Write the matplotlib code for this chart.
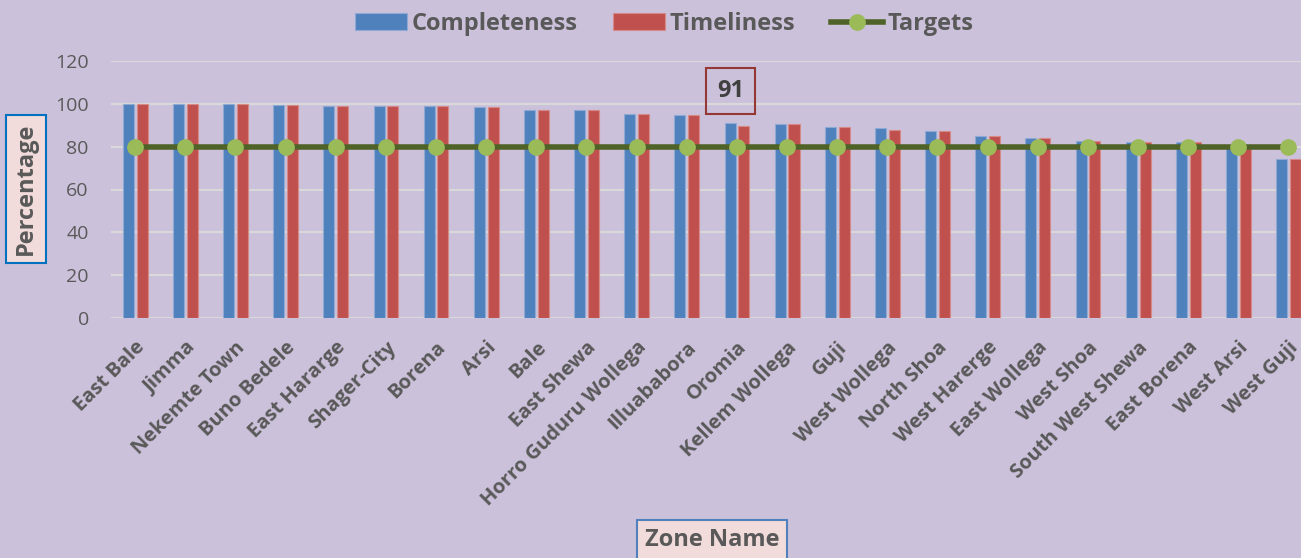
import matplotlib.pyplot as plt
import numpy as np

# zone names and reporting rates (%)
zones = ["East Bale", "Jimma", "Nekemte Town", "Buno Bedele", "East Hararge",
         "Shager-City", "Borena", "Arsi", "Bale", "East Shewa",
         "Horro Guduru Wollega", "Illuababora", "Oromia", "Kellem Wollega", "Guji",
         "West Wollega", "North Shoa", "West Harerge", "East Wollega", "West Shoa",
         "South West Shewa", "East Borena", "West Arsi", "West Guji"]
completeness = [100, 100, 100, 99.6, 99.2, 98.9, 98.9, 98.4, 97.3, 97.3,
                95.4, 95.0, 91.2, 90.7, 89.0, 88.8, 87.5, 85.2, 84.0, 82.8,
                82.4, 82.3, 80.5, 74.1]
timeliness = [100, 100, 100, 99.6, 99.2, 98.9, 98.9, 98.4, 97.3, 97.3,
              95.4, 95.0, 89.8, 90.7, 89.0, 87.9, 87.4, 85.2, 84.0, 82.8,
              82.4, 82.3, 80.0, 74.1]
targets = [80] * len(zones)
n = len(zones)

plt.rcParams['font.family'] = ['Open Sans', 'DejaVu Sans']

bg = '#CCC1DA'
fig = plt.figure(figsize=(13.01, 5.58), dpi=100, facecolor=bg)
ax = fig.add_axes([111 / 1301, 1 - 318 / 558, (1301 - 111) / 1301, (318 - 61) / 558])
ax.set_facecolor(bg)

x = np.arange(n)
w = 0.22
b1 = ax.bar(x - 0.135, completeness, w, color='#4F81BD', edgecolor='#8EA9D4', linewidth=0.8,
            label='Completeness', zorder=2)
b2 = ax.bar(x + 0.14, timeliness, w, color='#C0504D', edgecolor='#D68A88', linewidth=0.8,
            label='Timeliness', zorder=2)
l1, = ax.plot(x, targets, color='#4F6228', linewidth=4, marker='o', markersize=11,
              markerfacecolor='#9BBB59', markeredgecolor='#9BBB59', label='Targets', zorder=3)

ax.set_ylim(0, 120)
ax.set_yticks(range(0, 121, 20))
ax.set_xlim(-0.48, n - 1 + 0.25)
ax.grid(axis='y', color='#D9D9D9', linewidth=1.5, zorder=0)
for s in ax.spines.values():
    s.set_visible(False)
ax.tick_params(axis='both', length=0)
ax.tick_params(axis='y', labelsize=14, labelcolor='#595959', pad=16)
ax.set_xticks(x)
ax.set_xticklabels(zones, rotation=45, ha='right', rotation_mode='anchor',
                   fontsize=14.5, fontweight='bold', color='#595959')
ax.tick_params(axis='x', pad=14)

# highlight label for Oromia
ax.text(11.87, 106, '91', ha='center', va='center', fontsize=17, fontweight='bold',
        color='#404040',
        bbox=dict(boxstyle='square,pad=0.45', facecolor='none', edgecolor='#953735', linewidth=1.5))

fig.text(26 / 1301, 1 - 189 / 558, 'Percentage', rotation=90, ha='center', va='center',
         fontsize=17, fontweight='bold', color='#595959',
         bbox=dict(boxstyle='square,pad=0.32', facecolor='#F2DCDB', edgecolor='#0070C0', linewidth=1.5))
fig.text(712 / 1301, 1 - 540 / 558, 'Zone Name', ha='center', va='center',
         fontsize=17, fontweight='bold', color='#595959',
         bbox=dict(boxstyle='square,pad=0.32', facecolor='#F2DCDB', edgecolor='#4F81BD', linewidth=1.5))

leg = fig.legend([b1, b2, l1], ['Completeness', 'Timeliness', 'Targets'],
                 loc='center', bbox_to_anchor=(664 / 1301, 1 - 24 / 558), ncol=3, frameon=False,
                 prop={'weight': 'bold', 'size': 17}, handlelength=2.2, handleheight=0.7,
                 columnspacing=1.5, handletextpad=0.2)
for t in leg.get_texts():
    t.set_color('#595959')

fig.savefig('out.png', dpi=100, facecolor=bg)
